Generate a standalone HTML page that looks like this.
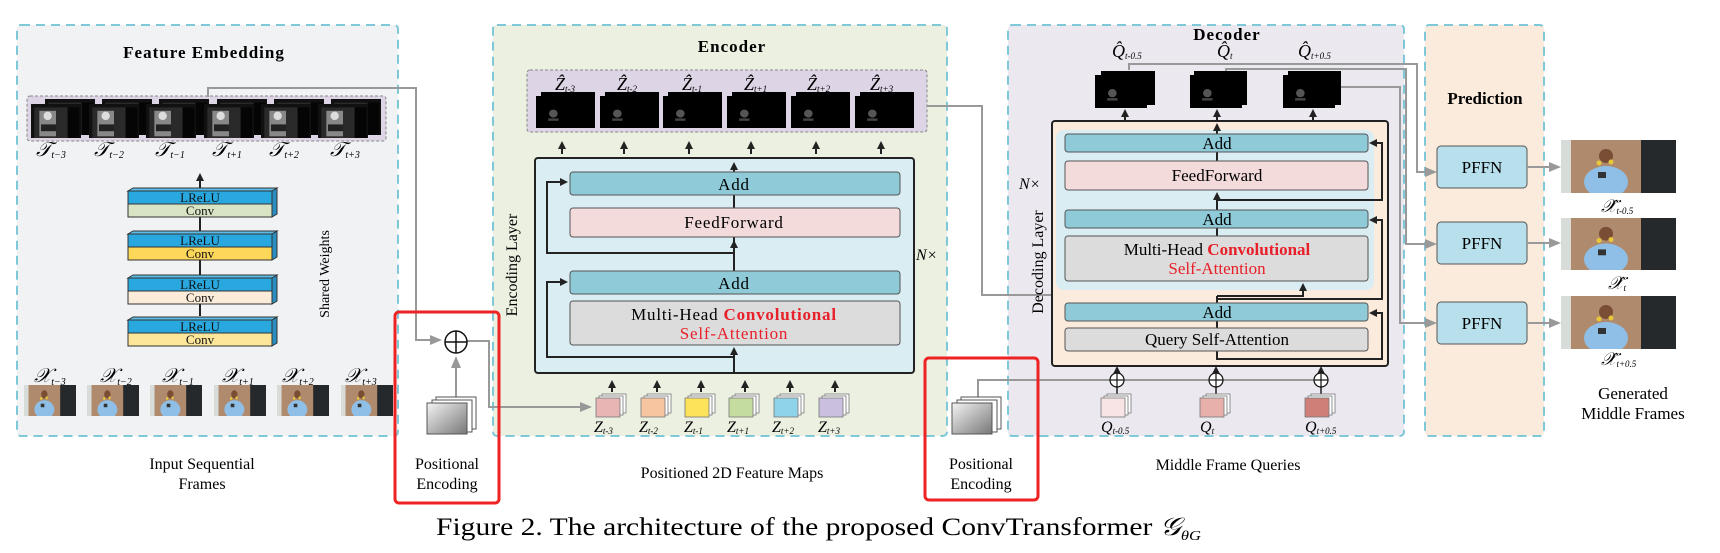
<!DOCTYPE html>
<html><head><meta charset="utf-8"><style>
html,body{margin:0;padding:0;background:#fff}
svg{display:block}
text{font-family:"Liberation Serif",serif}
</style></head><body>
<svg width="1720" height="553" viewBox="0 0 1720 553" xmlns="http://www.w3.org/2000/svg">
<defs>
<marker id="ab" markerWidth="8" markerHeight="8" refX="6" refY="4" orient="auto" markerUnits="userSpaceOnUse"><path d="M0,0 L8,4 L0,8 z" fill="#222"/></marker>
<marker id="ag" markerWidth="12" markerHeight="10" refX="10" refY="5" orient="auto" markerUnits="userSpaceOnUse"><path d="M0,0 L12,5 L0,10 z" fill="#999"/></marker>
<linearGradient id="pe" x1="0" y1="0" x2="1" y2="1"><stop offset="0" stop-color="#f4f4f4"/><stop offset="1" stop-color="#777"/></linearGradient>
<symbol id="photo" viewBox="0 0 115 53" preserveAspectRatio="none">
<rect width="115" height="53" fill="#b08a6c"/><rect x="0" width="10" height="53" fill="#d8dcd8"/><rect x="80" width="35" height="53" fill="#25292c"/>
<ellipse cx="45" cy="42" rx="22" ry="16" fill="#8fbfe6"/><circle cx="45" cy="16" r="7" fill="#7a4d35"/><rect x="37" y="32" width="8" height="6" fill="#333"/><circle cx="38" cy="23" r="2.5" fill="#e8c83a"/><circle cx="50" cy="22" r="2.5" fill="#e8c83a"/>
</symbol>
<symbol id="gmap" viewBox="0 0 60 40" preserveAspectRatio="none">
<rect width="60" height="40" fill="#111"/><rect x="4" y="4" width="40" height="36" fill="#2a2a2a"/><rect x="10" y="8" width="20" height="30" fill="#888"/><circle cx="20" cy="14" r="5" fill="#ddd"/><rect x="12" y="24" width="18" height="8" fill="#222"/><rect x="44" y="4" width="14" height="36" fill="#050505"/>
</symbol>
<symbol id="dmap" viewBox="0 0 60 40" preserveAspectRatio="none">
<rect width="60" height="40" fill="#000"/><circle cx="20" cy="22" r="5" fill="#555"/><rect x="14" y="28" width="12" height="3" fill="#444"/>
</symbol>
</defs>

<!-- Panels -->
<rect x="17" y="25" width="381" height="411" rx="4" fill="#f1f2f4" stroke="#7ec8d8" stroke-width="2" stroke-dasharray="9,6"/>
<rect x="493" y="25" width="454" height="411" rx="4" fill="#ebf0e0" stroke="#7ec8d8" stroke-width="2" stroke-dasharray="9,6"/>
<rect x="1008" y="25" width="396" height="411" rx="4" fill="#ebe8f0" stroke="#7ec8d8" stroke-width="2" stroke-dasharray="9,6"/>
<rect x="1425" y="25" width="119" height="411" rx="4" fill="#fbebdd" stroke="#7ec8d8" stroke-width="2" stroke-dasharray="9,6"/>

<!-- Feature embedding -->
<text x="204" y="58" font-size="17" font-weight="bold" text-anchor="middle" letter-spacing="1">Feature Embedding</text>
<rect x="27" y="96" width="359" height="45" rx="3" fill="#ddd5e5" stroke="#888" stroke-dasharray="3,2"/>
<g>
<use href="#gmap" x="45" y="99" width="50" height="36"/><use href="#gmap" x="31" y="104" width="50" height="34"/>
<use href="#gmap" x="102" y="99" width="50" height="36"/><use href="#gmap" x="89" y="104" width="50" height="34"/>
<use href="#gmap" x="159" y="99" width="50" height="36"/><use href="#gmap" x="146" y="104" width="50" height="34"/>
<use href="#gmap" x="217" y="99" width="50" height="36"/><use href="#gmap" x="204" y="104" width="50" height="34"/>
<use href="#gmap" x="274" y="99" width="50" height="36"/><use href="#gmap" x="261" y="104" width="50" height="34"/>
<use href="#gmap" x="331" y="99" width="50" height="36"/><use href="#gmap" x="318" y="104" width="50" height="34"/>
</g>
<g font-size="20" font-style="italic">
<text x="36" y="156">𝒯<tspan font-size="10" dy="2">t−3</tspan></text>
<text x="94" y="156">𝒯<tspan font-size="10" dy="2">t−2</tspan></text>
<text x="155" y="156">𝒯<tspan font-size="10" dy="2">t−1</tspan></text>
<text x="212" y="156">𝒯<tspan font-size="10" dy="2">t+1</tspan></text>
<text x="269" y="156">𝒯<tspan font-size="10" dy="2">t+2</tspan></text>
<text x="330" y="156">𝒯<tspan font-size="10" dy="2">t+3</tspan></text>
</g>
<line x1="200" y1="188" x2="200" y2="175" stroke="#222" stroke-width="2" marker-end="url(#ab)"/>
<line x1="200" y1="217" x2="200" y2="316" stroke="#222" stroke-width="2"/>
<g stroke="#333" stroke-width="1">
<!-- block 1 -->
<polygon points="272,191 277,188 277,214 272,217" fill="#2a8fc0"/><polygon points="128,191 133,188 277,188 272,191" fill="#5bbde8"/>
<rect x="128" y="191" width="144" height="13" fill="#29a8e0"/><rect x="128" y="204" width="144" height="13" fill="#d9e4c4"/>
<polygon points="272,234 277,231 277,257 272,260" fill="#2a8fc0"/><polygon points="128,234 133,231 277,231 272,234" fill="#5bbde8"/>
<rect x="128" y="234" width="144" height="13" fill="#29a8e0"/><rect x="128" y="247" width="144" height="13" fill="#fdd75a"/>
<polygon points="272,278 277,275 277,301 272,304" fill="#2a8fc0"/><polygon points="128,278 133,275 277,275 272,278" fill="#5bbde8"/>
<rect x="128" y="278" width="144" height="13" fill="#29a8e0"/><rect x="128" y="291" width="144" height="13" fill="#fbebd9"/>
<polygon points="272,320 277,317 277,343 272,346" fill="#2a8fc0"/><polygon points="128,320 133,317 277,317 272,320" fill="#5bbde8"/>
<rect x="128" y="320" width="144" height="13" fill="#29a8e0"/><rect x="128" y="333" width="144" height="13" fill="#fde59a"/>
</g>
<g font-size="13" text-anchor="middle" fill="#111">
<text x="200" y="202">LReLU</text><text x="200" y="215">Conv</text>
<text x="200" y="245">LReLU</text><text x="200" y="258">Conv</text>
<text x="200" y="289">LReLU</text><text x="200" y="302">Conv</text>
<text x="200" y="331">LReLU</text><text x="200" y="344">Conv</text>
</g>
<text transform="translate(329,274) rotate(-90)" font-size="14" text-anchor="middle">Shared Weights</text>
<g font-size="20" font-style="italic">
<text x="34" y="382">𝒳<tspan font-size="10" dy="3">t−3</tspan></text>
<text x="100" y="382">𝒳<tspan font-size="10" dy="3">t−2</tspan></text>
<text x="162" y="382">𝒳<tspan font-size="10" dy="3">t−1</tspan></text>
<text x="222" y="382">𝒳<tspan font-size="10" dy="3">t+1</tspan></text>
<text x="282" y="382">𝒳<tspan font-size="10" dy="3">t+2</tspan></text>
<text x="345" y="382">𝒳<tspan font-size="10" dy="3">t+3</tspan></text>
</g>
<use href="#photo" x="24" y="385" width="52" height="31"/>
<use href="#photo" x="87" y="385" width="52" height="31"/>
<use href="#photo" x="150" y="385" width="52" height="31"/>
<use href="#photo" x="214" y="385" width="52" height="31"/>
<use href="#photo" x="277" y="385" width="52" height="31"/>
<use href="#photo" x="341" y="385" width="52" height="31"/>
<text x="202" y="469" font-size="16" text-anchor="middle">Input Sequential</text>
<text x="202" y="489" font-size="16" text-anchor="middle">Frames</text>

<!-- PE 1 -->
<polyline points="208,97 208,88 416,88 416,340 440,340" fill="none" stroke="#999" stroke-width="2" marker-end="url(#ag)"/>
<line x1="456" y1="397" x2="456" y2="358" stroke="#999" stroke-width="2" marker-end="url(#ag)"/>
<polyline points="466,341 489,341 489,407 590,407" fill="none" stroke="#999" stroke-width="2" marker-end="url(#ag)"/>
<circle cx="456" cy="342" r="11" fill="#fff" stroke="#111" stroke-width="1.5"/>
<line x1="445" y1="342" x2="467" y2="342" stroke="#111" stroke-width="1.5"/><line x1="456" y1="331" x2="456" y2="353" stroke="#111" stroke-width="1.5"/>
<rect x="436" y="397" width="40" height="32" fill="#fff" stroke="#555"/>
<rect x="432" y="400" width="40" height="32" fill="#fff" stroke="#555"/>
<rect x="427" y="403" width="40" height="31" fill="url(#pe)" stroke="#555"/>
<rect x="395" y="312" width="104" height="191" rx="4" fill="none" stroke="#ee2222" stroke-width="3"/>
<text x="447" y="469" font-size="16" text-anchor="middle">Positional</text>
<text x="447" y="489" font-size="16" text-anchor="middle">Encoding</text>

<!-- Encoder -->
<text x="732" y="52" font-size="17" font-weight="bold" text-anchor="middle" letter-spacing="1">Encoder</text>
<rect x="527" y="70" width="400" height="62" rx="3" fill="#ddd5e5" stroke="#888" stroke-dasharray="3,2"/>
<g>
<use href="#dmap" x="541" y="92" width="54" height="36"/><use href="#dmap" x="536" y="96" width="52" height="32"/>
<use href="#dmap" x="605" y="92" width="54" height="36"/><use href="#dmap" x="600" y="96" width="52" height="32"/>
<use href="#dmap" x="668" y="92" width="54" height="36"/><use href="#dmap" x="663" y="96" width="52" height="32"/>
<use href="#dmap" x="732" y="92" width="54" height="36"/><use href="#dmap" x="727" y="96" width="52" height="32"/>
<use href="#dmap" x="796" y="92" width="54" height="36"/><use href="#dmap" x="791" y="96" width="52" height="32"/>
<use href="#dmap" x="860" y="92" width="54" height="36"/><use href="#dmap" x="855" y="96" width="52" height="32"/>
</g>
<g font-size="18" font-style="italic">
<text x="555" y="90">Ẑ<tspan font-size="9" dy="2">t-3</tspan></text>
<text x="617" y="90">Ẑ<tspan font-size="9" dy="2">t-2</tspan></text>
<text x="682" y="90">Ẑ<tspan font-size="9" dy="2">t-1</tspan></text>
<text x="744" y="90">Ẑ<tspan font-size="9" dy="2">t+1</tspan></text>
<text x="807" y="90">Ẑ<tspan font-size="9" dy="2">t+2</tspan></text>
<text x="870" y="90">Ẑ<tspan font-size="9" dy="2">t+3</tspan></text>
</g>
<g stroke="#222" stroke-width="2">
<line x1="562" y1="154" x2="562" y2="143" marker-end="url(#ab)"/><line x1="624" y1="154" x2="624" y2="143" marker-end="url(#ab)"/>
<line x1="689" y1="154" x2="689" y2="143" marker-end="url(#ab)"/><line x1="751" y1="154" x2="751" y2="143" marker-end="url(#ab)"/>
<line x1="816" y1="154" x2="816" y2="143" marker-end="url(#ab)"/><line x1="881" y1="154" x2="881" y2="143" marker-end="url(#ab)"/>
</g>
<rect x="535" y="158" width="379" height="215" rx="3" fill="#d9edf2" stroke="#222" stroke-width="2"/>
<g stroke="#222" stroke-width="2" fill="none">
<line x1="734" y1="172" x2="734" y2="164" marker-end="url(#ab)"/>
<line x1="734" y1="237" x2="734" y2="271"/>
<line x1="734" y1="208" x2="734" y2="195"/>
<line x1="734" y1="373" x2="734" y2="349" marker-end="url(#ab)"/>
<line x1="734" y1="271" x2="734" y2="242" marker-end="url(#ab)"/>
<polyline points="734,253 547,253 547,182 566,182" marker-end="url(#ab)"/>
<polyline points="734,357 547,357 547,282 566,282" marker-end="url(#ab)"/>
</g>
<rect x="570" y="172" width="330" height="23" rx="3" fill="#8ecad8" stroke="#555"/>
<rect x="570" y="208" width="330" height="29" rx="3" fill="#f3dadb" stroke="#555"/>
<rect x="570" y="271" width="330" height="23" rx="3" fill="#8ecad8" stroke="#555"/>
<rect x="570" y="301" width="330" height="44" rx="3" fill="#dcdcdc" stroke="#555"/>
<g font-size="17" text-anchor="middle" letter-spacing="0.8">
<text x="734" y="190">Add</text><text x="734" y="228">FeedForward</text><text x="734" y="289">Add</text>
<text x="734" y="320">Multi-Head <tspan fill="#e8202a" font-weight="bold">Convolutional</tspan></text>
<text x="734" y="339" fill="#e8202a">Self-Attention</text>
</g>
<text transform="translate(517,265) rotate(-90)" font-size="16" text-anchor="middle">Encoding Layer</text>
<text x="916" y="260" font-size="16" font-style="italic">N×</text>
<g stroke="#222" stroke-width="2">
<line x1="612" y1="392" x2="612" y2="382" marker-end="url(#ab)"/><line x1="657" y1="392" x2="657" y2="382" marker-end="url(#ab)"/>
<line x1="701" y1="392" x2="701" y2="382" marker-end="url(#ab)"/><line x1="745" y1="392" x2="745" y2="382" marker-end="url(#ab)"/>
<line x1="790" y1="392" x2="790" y2="382" marker-end="url(#ab)"/><line x1="835" y1="392" x2="835" y2="382" marker-end="url(#ab)"/>
</g>
<g stroke="#777" stroke-width="0.8">
<rect x="602" y="394" width="24" height="19" fill="#fff"/><rect x="599" y="396" width="24" height="19" fill="#fff"/><rect x="596" y="398" width="24" height="19" fill="#e8b4b4"/>
<rect x="647" y="394" width="24" height="19" fill="#fff"/><rect x="644" y="396" width="24" height="19" fill="#fff"/><rect x="641" y="398" width="24" height="19" fill="#f7c59f"/>
<rect x="691" y="394" width="24" height="19" fill="#fff"/><rect x="688" y="396" width="24" height="19" fill="#fff"/><rect x="685" y="398" width="24" height="19" fill="#fde35a"/>
<rect x="735" y="394" width="24" height="19" fill="#fff"/><rect x="732" y="396" width="24" height="19" fill="#fff"/><rect x="729" y="398" width="24" height="19" fill="#c5dca0"/>
<rect x="780" y="394" width="24" height="19" fill="#fff"/><rect x="777" y="396" width="24" height="19" fill="#fff"/><rect x="774" y="398" width="24" height="19" fill="#8fd3e8"/>
<rect x="825" y="394" width="24" height="19" fill="#fff"/><rect x="822" y="396" width="24" height="19" fill="#fff"/><rect x="819" y="398" width="24" height="19" fill="#cbbfe0"/>
</g>
<g font-size="16" font-style="italic">
<text x="594" y="432">Z<tspan font-size="9" dy="2">t-3</tspan></text>
<text x="639" y="432">Z<tspan font-size="9" dy="2">t-2</tspan></text>
<text x="684" y="432">Z<tspan font-size="9" dy="2">t-1</tspan></text>
<text x="727" y="432">Z<tspan font-size="9" dy="2">t+1</tspan></text>
<text x="772" y="432">Z<tspan font-size="9" dy="2">t+2</tspan></text>
<text x="818" y="432">Z<tspan font-size="9" dy="2">t+3</tspan></text>
</g>
<text x="732" y="478" font-size="16" text-anchor="middle">Positioned 2D Feature Maps</text>

<!-- Decoder -->
<text x="1227" y="40" font-size="17" font-weight="bold" text-anchor="middle" letter-spacing="1">Decoder</text>
<g font-size="18" font-style="italic">
<text x="1112" y="57">Q̂<tspan font-size="9" dy="2">t-0.5</tspan></text>
<text x="1217" y="57">Q̂<tspan font-size="9" dy="2">t</tspan></text>
<text x="1298" y="57">Q̂<tspan font-size="9" dy="2">t+0.5</tspan></text>
</g>
<g fill="none" stroke="#999" stroke-width="2">
<polyline points="1129,70 1129,64 1417,64 1417,172 1435,172" marker-end="url(#ag)"/>
<polyline points="1226,72 1226,69 1406,69 1406,244 1435,244" marker-end="url(#ag)"/>
<polyline points="1341,87 1400,87 1400,323 1435,323" marker-end="url(#ag)"/>
<polyline points="927,106 982,106 982,295 1203,295 1203,286" marker-end="url(#ag)"/>
</g>
<use href="#dmap" x="1101" y="71" width="54" height="34"/><use href="#dmap" x="1095" y="75" width="52" height="33"/>
<use href="#dmap" x="1194" y="71" width="53" height="34"/><use href="#dmap" x="1190" y="75" width="52" height="33"/>
<use href="#dmap" x="1288" y="71" width="53" height="34"/><use href="#dmap" x="1283" y="75" width="52" height="33"/>
<rect x="1052" y="121" width="336" height="245" rx="3" fill="#fbebdc" stroke="#222" stroke-width="2"/>
<rect x="1056" y="130" width="318" height="160" rx="8" fill="#d9edf2"/>
<g stroke="#222" stroke-width="2" fill="none">
<line x1="1125" y1="120" x2="1125" y2="111" marker-end="url(#ab)"/>
<line x1="1217" y1="120" x2="1217" y2="111" marker-end="url(#ab)"/>
<line x1="1313" y1="120" x2="1313" y2="111" marker-end="url(#ab)"/>
<line x1="1217" y1="134" x2="1217" y2="125" marker-end="url(#ab)"/>
<line x1="1217" y1="152" x2="1217" y2="161"/>
<line x1="1217" y1="210" x2="1217" y2="194" marker-end="url(#ab)"/>
<line x1="1217" y1="228" x2="1217" y2="236"/>
<line x1="1217" y1="303" x2="1217" y2="296"/>
<line x1="1217" y1="321" x2="1217" y2="328"/>
<polyline points="1217,200 1382,200 1382,143 1371,143" marker-end="url(#ab)"/>
<polyline points="1217,296 1303,296 1303,285" marker-end="url(#ab)"/>
<polyline points="1217,299 1382,299 1382,220 1371,220" marker-end="url(#ab)"/>
<polyline points="1217,351 1217,359 1382,359 1382,313 1371,313" marker-end="url(#ab)"/>
</g>
<rect x="1065" y="134" width="303" height="18" rx="3" fill="#8ecad8" stroke="#555"/>
<rect x="1065" y="161" width="303" height="29" rx="3" fill="#f3dadb" stroke="#555"/>
<rect x="1065" y="210" width="303" height="18" rx="3" fill="#8ecad8" stroke="#555"/>
<rect x="1065" y="236" width="303" height="45" rx="3" fill="#dcdcdc" stroke="#555"/>
<rect x="1065" y="303" width="303" height="18" rx="3" fill="#8ecad8" stroke="#555"/>
<rect x="1065" y="328" width="303" height="23" rx="3" fill="#dcdcdc" stroke="#555"/>
<g font-size="17" text-anchor="middle">
<text x="1217" y="149">Add</text><text x="1217" y="181">FeedForward</text><text x="1217" y="225">Add</text>
<text x="1217" y="255">Multi-Head <tspan fill="#e8202a" font-weight="bold">Convolutional</tspan></text>
<text x="1217" y="274" fill="#e8202a">Self-Attention</text>
<text x="1217" y="318">Add</text><text x="1217" y="345">Query Self-Attention</text>
</g>
<text transform="translate(1043,262) rotate(-90)" font-size="16" text-anchor="middle">Decoding Layer</text>
<text x="1019" y="189" font-size="16" font-style="italic">N×</text>

<!-- decoder bottom -->
<polyline points="978,397 978,380 1315,380" fill="none" stroke="#999" stroke-width="2"/>
<g stroke="#222" stroke-width="1.5">
<line x1="1117" y1="394" x2="1117" y2="368" marker-end="url(#ab)"/>
<line x1="1216" y1="394" x2="1216" y2="368" marker-end="url(#ab)"/>
<line x1="1321" y1="394" x2="1321" y2="368" marker-end="url(#ab)"/>
</g>
<g fill="#fff" stroke="#111" stroke-width="1.2">
<circle cx="1117" cy="380" r="7"/><circle cx="1216" cy="380" r="7"/><circle cx="1321" cy="380" r="7"/>
</g>
<g stroke="#111" stroke-width="1.2">
<line x1="1110" y1="380" x2="1124" y2="380"/><line x1="1117" y1="373" x2="1117" y2="387"/>
<line x1="1209" y1="380" x2="1223" y2="380"/><line x1="1216" y1="373" x2="1216" y2="387"/>
<line x1="1314" y1="380" x2="1328" y2="380"/><line x1="1321" y1="373" x2="1321" y2="387"/>
</g>
<g stroke="#777" stroke-width="0.8">
<rect x="1107" y="394" width="24" height="19" fill="#fff"/><rect x="1104" y="396" width="24" height="19" fill="#fff"/><rect x="1101" y="398" width="24" height="19" fill="#f8e4e4"/>
<rect x="1206" y="394" width="24" height="19" fill="#fff"/><rect x="1203" y="396" width="24" height="19" fill="#fff"/><rect x="1200" y="398" width="24" height="19" fill="#e8b0aa"/>
<rect x="1311" y="394" width="24" height="19" fill="#fff"/><rect x="1308" y="396" width="24" height="19" fill="#fff"/><rect x="1305" y="398" width="24" height="19" fill="#cf7f78"/>
</g>
<g font-size="16" font-style="italic">
<text x="1101" y="432">Q<tspan font-size="9" dy="2">t-0.5</tspan></text>
<text x="1200" y="432">Q<tspan font-size="9" dy="2">t</tspan></text>
<text x="1305" y="432">Q<tspan font-size="9" dy="2">t+0.5</tspan></text>
</g>
<rect x="961" y="397" width="40" height="32" fill="#fff" stroke="#555"/>
<rect x="957" y="400" width="40" height="32" fill="#fff" stroke="#555"/>
<rect x="952" y="403" width="40" height="31" fill="url(#pe)" stroke="#555"/>
<rect x="925" y="358" width="113" height="142" rx="4" fill="none" stroke="#ee2222" stroke-width="3"/>
<text x="981" y="469" font-size="16" text-anchor="middle">Positional</text>
<text x="981" y="489" font-size="16" text-anchor="middle">Encoding</text>
<text x="1228" y="470" font-size="16" text-anchor="middle">Middle Frame Queries</text>

<!-- Prediction -->
<text x="1485" y="104" font-size="17" font-weight="bold" text-anchor="middle">Prediction</text>
<rect x="1437" y="146" width="90" height="42" rx="4" fill="#b8dfec" stroke="#555"/>
<rect x="1437" y="222" width="90" height="42" rx="4" fill="#b8dfec" stroke="#555"/>
<rect x="1437" y="302" width="90" height="42" rx="4" fill="#b8dfec" stroke="#555"/>
<g font-size="17" text-anchor="middle"><text x="1482" y="173">PFFN</text><text x="1482" y="249">PFFN</text><text x="1482" y="329">PFFN</text></g>
<g stroke="#999" stroke-width="2">
<line x1="1527" y1="167" x2="1559" y2="167" marker-end="url(#ag)"/>
<line x1="1527" y1="243" x2="1559" y2="243" marker-end="url(#ag)"/>
<line x1="1527" y1="323" x2="1559" y2="323" marker-end="url(#ag)"/>
</g>
<use href="#photo" x="1561" y="140" width="115" height="53"/>
<use href="#photo" x="1561" y="218" width="115" height="52"/>
<use href="#photo" x="1561" y="296" width="115" height="53"/>
<g font-size="18" font-style="italic">
<text x="1601" y="212">𝒳̂<tspan font-size="9" dy="2">t-0.5</tspan></text>
<text x="1608" y="289">𝒳̂<tspan font-size="9" dy="2">t</tspan></text>
<text x="1601" y="365">𝒳̂<tspan font-size="9" dy="2">t+0.5</tspan></text>
</g>
<text x="1633" y="399" font-size="17" text-anchor="middle">Generated</text>
<text x="1633" y="419" font-size="17" text-anchor="middle">Middle Frames</text>

<!-- caption -->
<text x="436" y="535" font-size="25" textLength="765" lengthAdjust="spacingAndGlyphs">Figure 2.  The architecture of the proposed ConvTransformer <tspan font-style="italic">𝒢</tspan><tspan font-size="14" font-style="italic" dy="5">θG</tspan></text>
</svg>
</body></html>
